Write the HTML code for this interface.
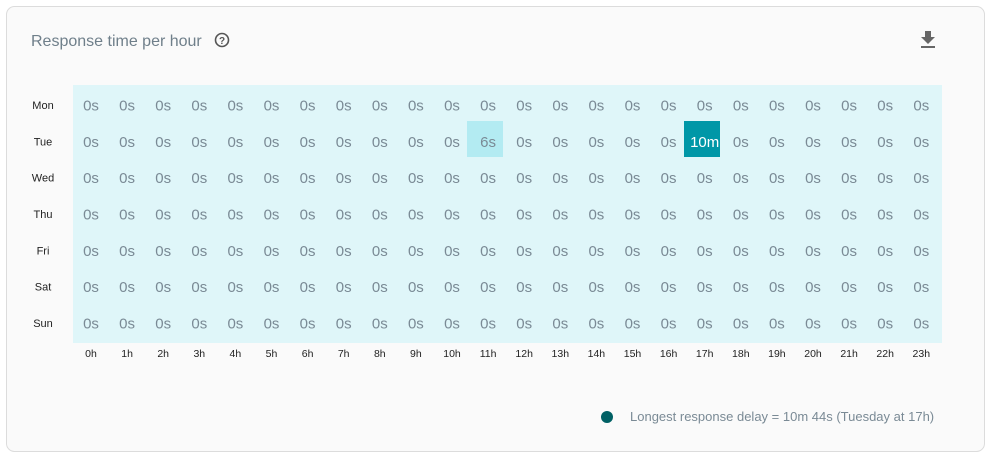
<!DOCTYPE html>
<html><head><meta charset="utf-8"><style>
html,body{margin:0;padding:0;background:#fff;}
svg{display:block;}
</style></head><body>
<svg width="995" height="460" xmlns="http://www.w3.org/2000/svg" font-family="Liberation Sans, sans-serif">
<rect x="6.5" y="6.5" width="978" height="445" rx="8" fill="#fafafa" stroke="#dcdcdc"/>
<text x="31" y="46" font-size="16" fill="#6f7f8a">Response time per hour</text>
<circle cx="222" cy="40" r="6.5" fill="none" stroke="#555" stroke-width="1.6"/>
<text x="222" y="44" font-size="10" font-weight="bold" fill="#555" text-anchor="middle">?</text>
<g fill="#666"><rect x="925" y="31" width="6" height="6"/><polygon points="921,37 935,37 928,44"/><rect x="921" y="46" width="14" height="2"/></g>
<rect x="73" y="85" width="869" height="258" fill="#dff6f9"/>
<rect x="467" y="121" width="36" height="36" fill="#b3ebf2"/>
<rect x="684" y="121" width="36" height="36" fill="#0097a7"/>
<g id="cells" font-size="15" fill="#7a8a95" text-anchor="middle"></g>
<g id="days" font-size="11" fill="#222" text-anchor="middle"></g>
<g id="hours" font-size="10.5" fill="#222" text-anchor="middle"></g>
<circle cx="607" cy="417" r="6" fill="#006064"/>
<text x="630" y="421" font-size="13" fill="#7a8a95">Longest response delay = 10m 44s (Tuesday at 17h)</text>
</svg>
<script>
var ns="http://www.w3.org/2000/svg";
var cells=document.getElementById("cells"),days=document.getElementById("days"),hours=document.getElementById("hours");
var dn=["Mon","Tue","Wed","Thu","Fri","Sat","Sun"];
function t(g,x,y,s,fill){var e=document.createElementNS(ns,"text");e.setAttribute("x",x);e.setAttribute("y",y);if(fill)e.setAttribute("fill",fill);e.textContent=s;g.appendChild(e);}
for(var r=0;r<7;r++){var y=105+r*36.33+5;t(days,43,y-1,dn[r]);
for(var c=0;c<24;c++){var x=91+c*36.1;var s="0s",f=null;
if(r==1&&c==11)s="6s";if(r==1&&c==17){s="10m";f="#fff";}
t(cells,x,y+0.5,s,f);}}
for(var c=0;c<24;c++)t(hours,91+c*36.1,357,c+"h");
</script>
</body></html>
